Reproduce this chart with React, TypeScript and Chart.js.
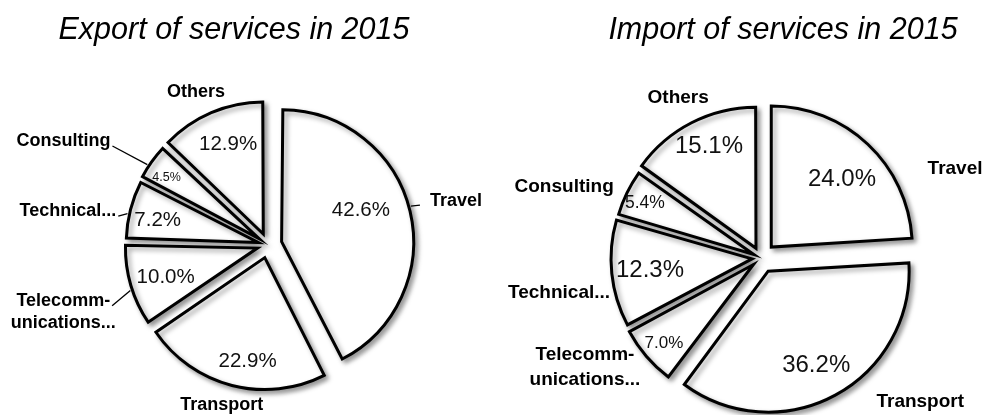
import React, { useEffect, useRef } from 'react';
import { Chart, registerables } from 'chart.js';

Chart.register(...registerables);

// ---------- data ----------
const categories: (string | string[])[] = [
  'Travel',
  'Transport',
  ['Telecomm-', 'unications...'],
  'Technical...',
  'Consulting',
  'Others',
];
const exportShares = [42.6, 22.9, 10.0, 7.2, 4.5, 12.9];
const importShares = [24.0, 36.2, 7.0, 12.3, 5.4, 15.1];
const exportTitle = 'Export of services in 2015';
const importTitle = 'Import of services in 2015';

// ---------- styling / placement ----------
type PieStyle = {
  radius: number;
  padding: { left: number; right: number; top: number; bottom: number };
  explode: number[]; // translation (px) of each slice along its mid angle
  pctPlace: [number, number][]; // [angle delta (deg), radius factor]
  pctFont: number[];
  labelPlace: [number, number][];
  labelFont: number;
  labelLineHeight: number;
  leader: boolean[];
};

const FONT = "'Liberation Sans', Arial, Helvetica, sans-serif";

const exportStyle: PieStyle = {
  radius: 132,
  padding: { left: 43, right: 0, top: 75, bottom: 0 },
  explode: [14, 13, 11, 10, 11, 12],
  pctPlace: [[-8.2, 0.646], [-5, 0.8], [-1.3, 0.73], [-2.2, 0.78], [-2, 0.84], [1.8, 0.73]],
  pctFont: [20.5, 20.5, 20.5, 20.5, 12.5, 20.5],
  labelPlace: [[0.3, 1.356], [1.9, 1.164], [-1.7, 1.548], [-5.1, 1.462], [-9, 1.656], [-2.2, 1.187]],
  labelFont: 18,
  labelLineHeight: 22,
  leader: [true, false, true, true, true, false],
};

const importStyle: PieStyle = {
  radius: 141,
  padding: { left: 43, right: 0, top: 101, bottom: 0 },
  explode: [15, 15, 10, 9, 8, 11],
  pctPlace: [[2.9, 0.696], [1.3, 0.747], [-0.6, 0.844], [-0.3, 0.728], [-0.6, 0.854], [2.5, 0.798]],
  pctFont: [24, 24, 17, 24, 17.5, 24],
  labelPlace: [[23.8, 1.416], [-20.9, 1.422], [9.4, 1.398], [-4.1, 1.39], [-6.3, 1.428], [-0.2, 1.2]],
  labelFont: 19,
  labelLineHeight: 25,
  leader: [false, false, false, false, false, false],
};

const DEG = Math.PI / 180;

function makeDecorPlugin(style: PieStyle) {
  return {
    id: 'pieDecor',
    afterDatasetUpdate(chart: any, args: any) {
      // keep every exploded slice at the same radius (Chart.js enlarges offset slices)
      const meta = args.meta;
      const base = meta.controller.outerRadius;
      meta.data.forEach((el: any, i: number) => {
        const t = style.explode[i] || 0;
        const fix = 1 - Math.sin(Math.min(Math.PI, el.circumference || 0));
        el.outerRadius = base - t * fix;
      });
    },
    beforeDatasetDraw(chart: any) {
      const ctx = chart.ctx;
      ctx.save();
      ctx.shadowColor = 'rgba(0,0,0,0.38)';
      ctx.shadowBlur = 5;
      ctx.shadowOffsetX = 3;
      ctx.shadowOffsetY = 3;
    },
    afterDatasetDraw(chart: any) {
      chart.ctx.restore();
    },
    afterDatasetsDraw(chart: any) {
      const ctx = chart.ctx;
      const meta = chart.getDatasetMeta(0);
      const values = chart.data.datasets[0].data as number[];
      const labels = chart.data.labels as (string | string[])[];
      const R = style.radius;
      ctx.save();
      meta.data.forEach((el: any, i: number) => {
        const mid = (el.startAngle + el.endAngle) / 2;
        const t = style.explode[i] || 0;
        const vx = el.x + Math.cos(mid) * t;
        const vy = el.y + Math.sin(mid) * t;

        // percentage inside the slice
        const [pd, pf] = style.pctPlace[i];
        const pa = mid + pd * DEG;
        ctx.fillStyle = '#111';
        ctx.font = `${style.pctFont[i]}px ${FONT}`;
        ctx.textAlign = 'center';
        ctx.textBaseline = 'middle';
        ctx.fillText(values[i].toFixed(1) + '%', vx + Math.cos(pa) * R * pf, vy + Math.sin(pa) * R * pf);

        // category label outside
        const [ld, lf] = style.labelPlace[i];
        const la = mid + ld * DEG;
        const tx = vx + Math.cos(la) * R * lf;
        const ty = vy + Math.sin(la) * R * lf;
        const lines = Array.isArray(labels[i]) ? (labels[i] as string[]) : [labels[i] as string];
        ctx.font = `bold ${style.labelFont}px ${FONT}`;
        ctx.fillStyle = '#000';
        const lh = style.labelLineHeight;
        const y0 = ty - ((lines.length - 1) * lh) / 2;
        lines.forEach((ln, k) => ctx.fillText(ln, tx, y0 + k * lh));

        if (style.leader[i]) {
          const w1 = ctx.measureText(lines[0]).width;
          const leftSide = tx < vx;
          const ex = leftSide ? tx + w1 / 2 + 2 : tx - w1 / 2 - 10;
          const ey = y0 + (leftSide ? 5 : 4);
          const aa = mid - 2 * DEG;
          const ax = vx + Math.cos(aa) * (R + 2);
          const ay = vy + Math.sin(aa) * (R + 2);
          ctx.strokeStyle = '#000';
          ctx.lineWidth = 1.3;
          ctx.beginPath();
          ctx.moveTo(ex, ey);
          ctx.lineTo(ax, ay);
          ctx.stroke();
        }
      });
      ctx.restore();
    },
  };
}

function PieCanvas({ values, style }: { values: number[]; style: PieStyle }) {
  const ref = useRef<HTMLCanvasElement | null>(null);
  useEffect(() => {
    if (!ref.current) return;
    const chart = new Chart(ref.current, {
      type: 'pie',
      data: {
        labels: categories as any,
        datasets: [
          {
            data: values,
            backgroundColor: '#ffffff',
            borderColor: '#000000',
            borderWidth: 3,
            borderJoinStyle: 'miter',
            offset: style.explode.map((t) => t * 4),
          } as any,
        ],
      },
      options: {
        responsive: false,
        maintainAspectRatio: false,
        animation: false,
        events: [],
        radius: style.radius,
        layout: { padding: style.padding },
        plugins: {
          legend: { display: false },
          tooltip: { enabled: false },
          title: { display: false },
        },
      } as any,
      plugins: [makeDecorPlugin(style)],
    });
    return () => chart.destroy();
  }, [values, style]);
  return <canvas ref={ref} width={493} height={415} style={{ position: 'absolute', left: 0, top: 0 }} />;
}

const titleStyle = (cx: number): React.CSSProperties => ({
  position: 'absolute',
  left: cx - 250,
  width: 500,
  top: 12.5,
  textAlign: 'center',
  fontFamily: FONT,
  fontStyle: 'italic',
  fontSize: 30.5,
  lineHeight: '30.5px',
  color: '#000',
  whiteSpace: 'nowrap',
});

export default function App() {
  return (
    <div style={{ position: 'absolute', left: 0, top: 0, width: 986, height: 415, background: '#fff', overflow: 'hidden' }}>
      <div style={{ position: 'absolute', left: 0, top: 0, width: 493, height: 415 }}>
        <PieCanvas values={exportShares} style={exportStyle} />
      </div>
      <div style={{ position: 'absolute', left: 493, top: 0, width: 493, height: 415 }}>
        <PieCanvas values={importShares} style={importStyle} />
      </div>
      <div style={titleStyle(234)}>{exportTitle}</div>
      <div style={titleStyle(783)}>{importTitle}</div>
    </div>
  );
}
